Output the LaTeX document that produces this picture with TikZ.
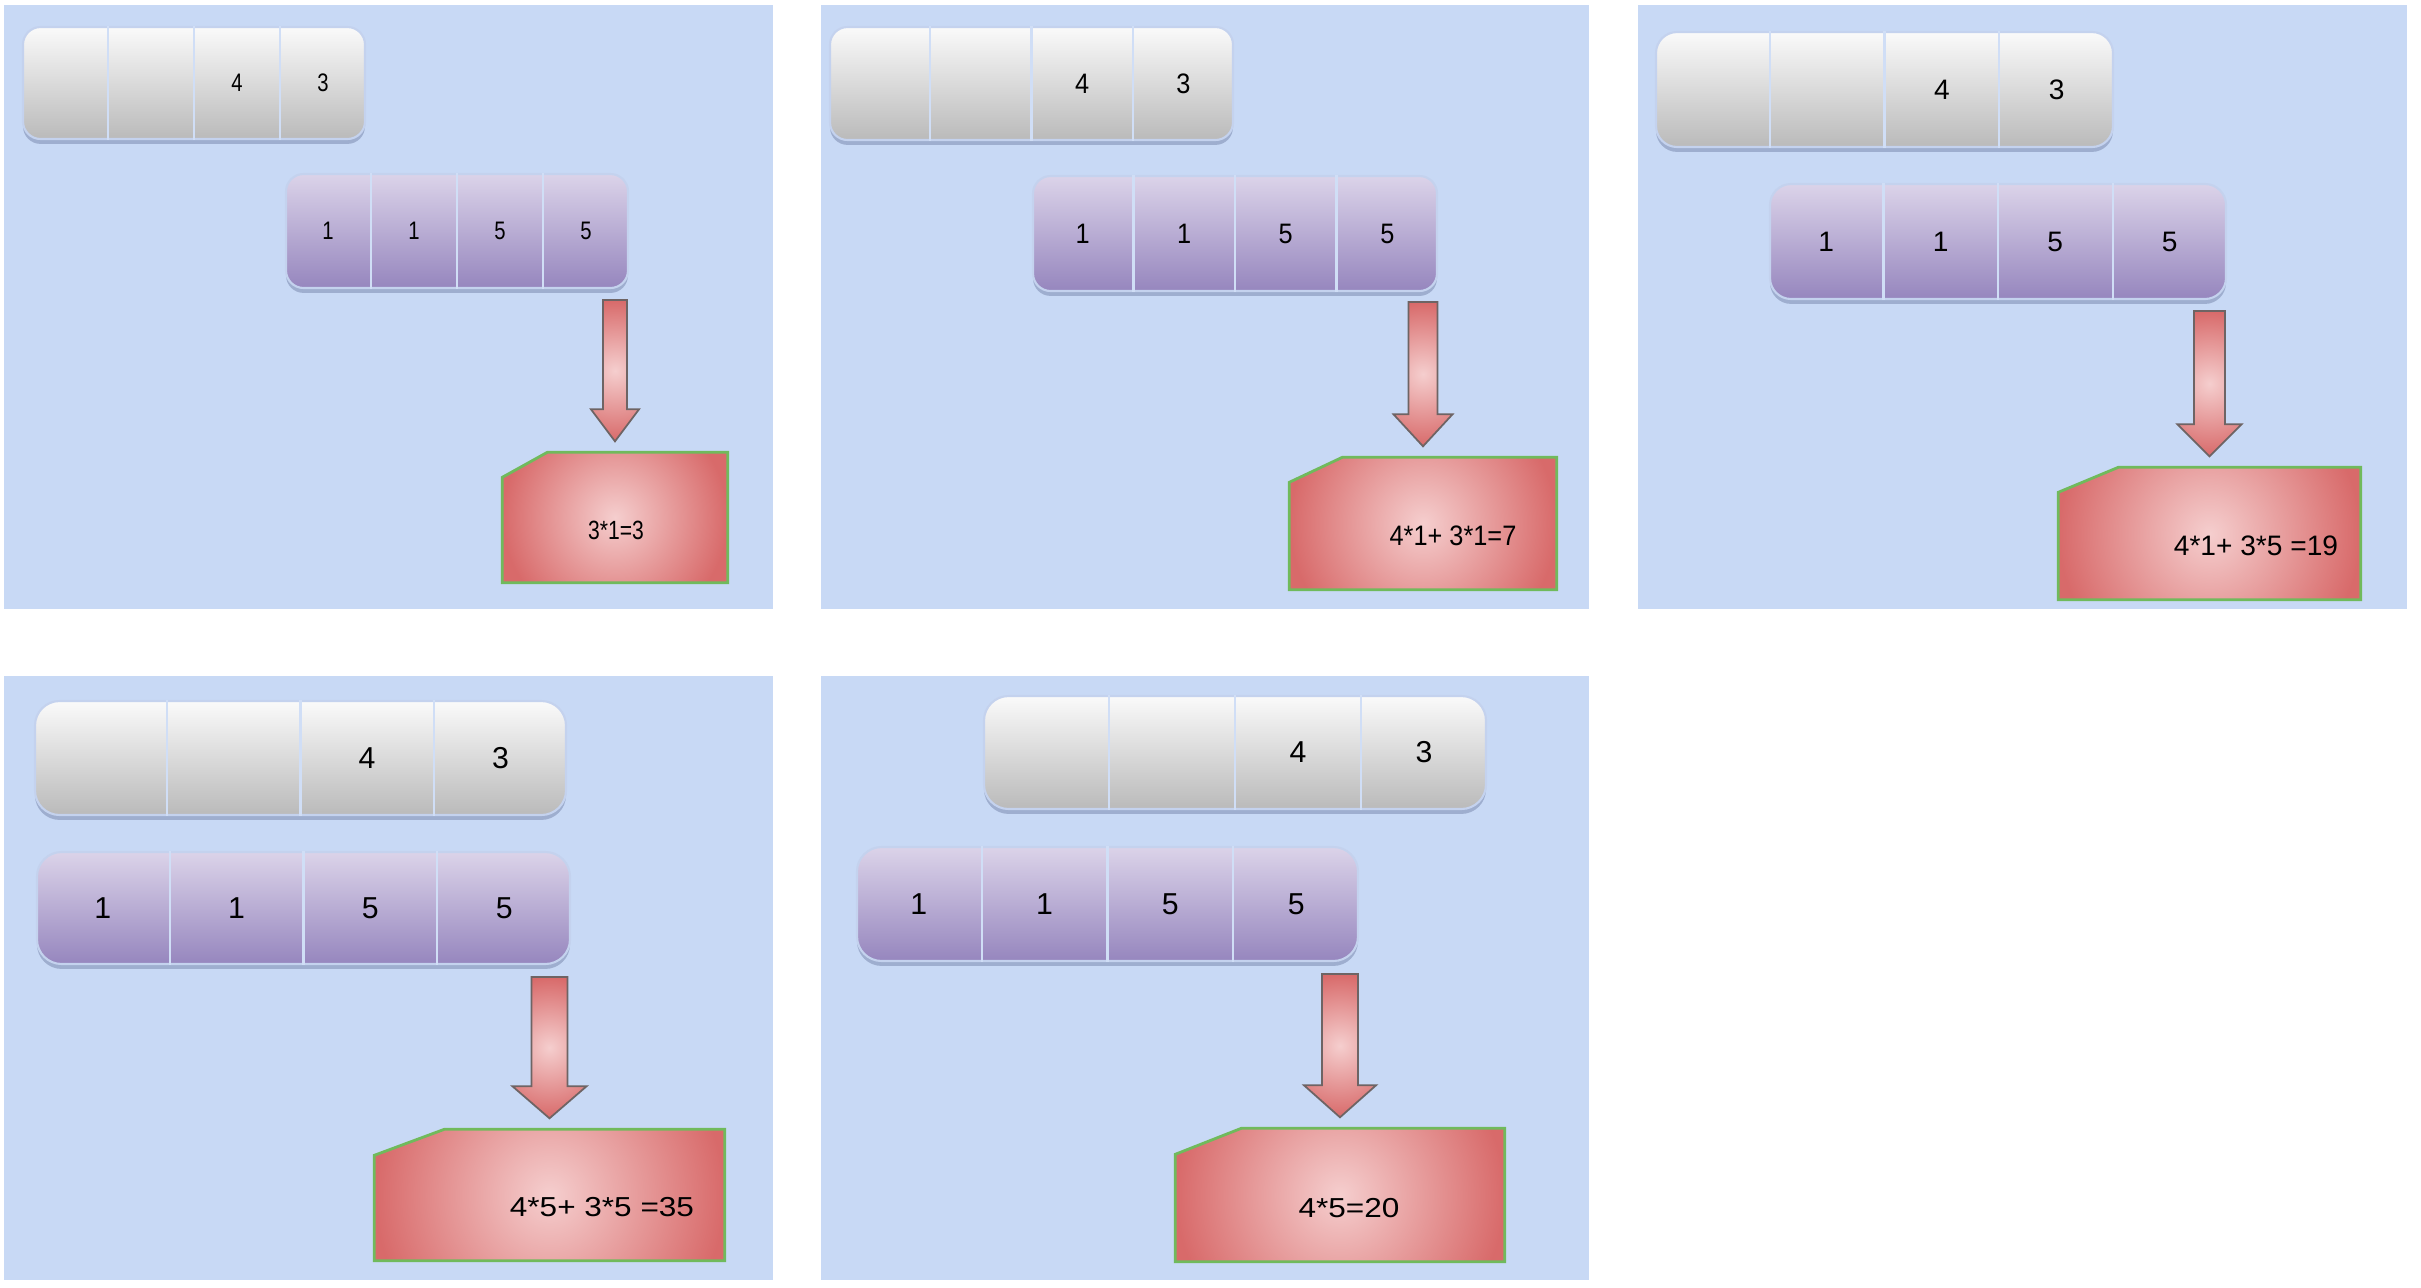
\documentclass[tikz,border=0pt]{standalone}
\usepackage{fontspec}
\setmainfont{Liberation Sans}
\newfontfamily\narrowsf[FakeStretch=0.8]{Liberation Sans}
\newfontfamily\slimsf[FakeStretch=0.9]{Liberation Sans}
\newfontfamily\widesf[FakeStretch=1.15]{Liberation Sans}
\definecolor{panelBlue}{RGB}{200,217,245}
\definecolor{grayTop}{RGB}{250,250,250}
\definecolor{grayBot}{RGB}{186,186,186}
\definecolor{lilacTop}{RGB}{219,211,233}
\definecolor{lilacBot}{RGB}{150,134,190}
\definecolor{barEdge}{RGB}{196,210,238}
\definecolor{cellLine}{RGB}{208,222,246}
\definecolor{shadowBlue}{RGB}{95,110,150}
\definecolor{glowLight}{RGB}{245,206,206}
\definecolor{glowDark}{RGB}{216,106,106}
\definecolor{arrowEdge}{RGB}{110,100,100}
\definecolor{resEdge}{RGB}{112,186,92}
\usepackage{tikz}
\usetikzlibrary{calc,fit,shadows}
\pgfdeclareverticalshading{grayfade}{100bp}{color(0bp)=(grayBot); color(25bp)=(grayBot); color(75bp)=(grayTop); color(100bp)=(grayTop)}
\pgfdeclareverticalshading{lilacfade}{100bp}{color(0bp)=(lilacBot); color(25bp)=(lilacBot); color(75bp)=(lilacTop); color(100bp)=(lilacTop)}
\pgfdeclareradialshading{redglow}{\pgfpoint{0bp}{0bp}}{color(0bp)=(glowLight); color(25bp)=(glowDark); color(50bp)=(glowDark)}

% a bar of four cells: name, style, corners, labels
\newcommand{\cellbar}[4]{%
  \node[#2, fit={#3}] (#1) {};
  \foreach \lab [count=\k] in {#4}
    \node[celltext] (#1-\k) at ($(#1.west)!{(2*\k-1)/8}!(#1.east)$) {\lab};
  \foreach \k in {1,2,3}
    \draw[divider] ($(#1.north west)!{\k/4}!(#1.north east)$)
      -- ($(#1.south west)!{\k/4}!(#1.south east)$);
}
% result box with the cut corner: name, corners, cut x, cut y
\newcommand{\resultbox}[4]{%
  \node[fit={#2}, inner sep=0pt] (#1) {};
  \path[resbox] ($(#1.north west)+(0,#4)$) -- ($(#1.north west)+(#3,0)$)
    -- (#1.north east) -- (#1.south east) -- (#1.south west) -- cycle;
}
% block arrow: start, tip, shaft half width, head half width
\newcommand{\blockarrow}[4]{%
  \path[blockarr] ($(#1)+(-#3,0)$) -- ($(#1)+(#3,0)$) -- ($(#2)+(#3,-32)$)
    -- ($(#2)+(#4,-32)$) -- (#2) -- ($(#2)+(-#4,-32)$) -- ($(#2)+(-#3,-32)$) -- cycle;
}

\begin{document}
\begin{tikzpicture}[x=0.01cm, y=-0.01cm,
    panel/.style={fill=panelBlue},
    graybar/.style={shade, shading=grayfade, draw=barEdge, line width=0.6pt,
      rounded corners=5pt, inner sep=0pt,
      drop shadow={shadow xshift=0pt, shadow yshift=-1.4pt, opacity=0.4, fill=shadowBlue}},
    lilacbar/.style={graybar, shading=lilacfade},
    celltext/.style={inner sep=0pt},
    divider/.style={draw=cellLine, line width=0.6pt},
    glowfill/.style={path picture={
      \shade[shading=redglow] let \p1=($(path picture bounding box.north east)-(path picture bounding box.south west)$),
        \n1={max(\x1,\y1)} in
        ($(path picture bounding box.center)-(0.5*\n1,0.5*\n1)$) rectangle ++(\n1,\n1);}},
    resbox/.style={glowfill, draw=resEdge, line width=0.8pt},
    blockarr/.style={glowfill, draw=arrowEdge, line width=0.5pt},
    restext/.style={inner sep=0pt}
  ]
  \useasboundingbox (0,0) rectangle (2421,1287);

  % panels
  \fill[panel] (4,5) rectangle (773,609);
  \fill[panel] (821,5) rectangle (1589,609);
  \fill[panel] (1638,5) rectangle (2407,609);
  \fill[panel] (4,676) rectangle (773,1280);
  \fill[panel] (821,676) rectangle (1589,1280);

  % step 1
  \begin{scope}[celltext/.style={inner sep=0pt, font=\narrowsf\fontsize{7.2}{9}\selectfont}]
    \cellbar{g1}{graybar}{(23,27)(365,139)}{{},{},4,3}
    \cellbar{p1}{lilacbar}{(286,174)(628,288)}{1,1,5,5}
    \resultbox{r1}{(503,453)(727,582)}{45}{25}
    \node[restext, font=\narrowsf\fontsize{7.5}{9}\selectfont] (v1) at (616,530) {3*1=3};
    \coordinate (s1) at ($(p1.south -| r1.north)+(0,11)$);
    \coordinate (e1) at ($(r1.north)+(0,-11)$);
    \blockarrow{s1}{e1}{12}{24}
  \end{scope}

  % step 2
  \begin{scope}[celltext/.style={inner sep=0pt, font=\slimsf\fontsize{8}{10}\selectfont}]
    \cellbar{g2}{graybar}{(830,27)(1233,140)}{{},{},4,3}
    \cellbar{p2}{lilacbar}{(1033,176)(1437,291)}{1,1,5,5}
    \resultbox{r2}{(1290,458)(1556,589)}{53}{25}
    \node[restext, font=\slimsf\fontsize{8}{10}\selectfont] (v2) at (1453,536) {4*1+ 3*1=7};
    \coordinate (s2) at ($(p2.south -| r2.north)+(0,10)$);
    \coordinate (e2) at ($(r2.north)+(0,-11)$);
    \blockarrow{s2}{e2}{14.5}{29.5}
  \end{scope}

  % step 3
  \begin{scope}[celltext/.style={inner sep=0pt, font=\fontsize{8}{10}\selectfont}]
    \cellbar{g3}{graybar, rounded corners=6pt}{(1656,32)(2113,147)}{{},{},4,3}
    \cellbar{p3}{lilacbar, rounded corners=6pt}{(1770,184)(2226,299)}{1,1,5,5}
    \resultbox{r3}{(2059,468)(2360,599)}{60}{25}
    \node[restext, font=\fontsize{8}{10}\selectfont] (v3) at (2256,546) {4*1+ 3*5 =19};
    \coordinate (s3) at ($(p3.south -| r3.north)+(0,11)$);
    \coordinate (e3) at ($(r3.north)+(0,-11)$);
    \blockarrow{s3}{e3}{15.5}{32}
  \end{scope}

  % step 4
  \begin{scope}[celltext/.style={inner sep=0pt, font=\fontsize{8.6}{10}\selectfont}]
    \cellbar{g4}{graybar, rounded corners=7pt}{(35,701)(566,815)}{{},{},4,3}
    \cellbar{p4}{lilacbar, rounded corners=7pt}{(37,852)(570,964)}{1,1,5,5}
    \resultbox{r4}{(375,1130)(724,1260)}{70}{26}
    \node[restext, font=\widesf\fontsize{7.8}{9}\selectfont] (v4) at (602,1207) {4*5+ 3*5 =35};
    \coordinate (s4) at ($(p4.south -| r4.north)+(0,12)$);
    \coordinate (e4) at ($(r4.north)+(0,-11)$);
    \blockarrow{s4}{e4}{18}{37}
  \end{scope}

  % step 5
  \begin{scope}[celltext/.style={inner sep=0pt, font=\fontsize{8.6}{10}\selectfont}]
    \cellbar{g5}{graybar, rounded corners=7pt}{(984,696)(1486,809)}{{},{},4,3}
    \cellbar{p5}{lilacbar, rounded corners=7pt}{(857,847)(1358,961)}{1,1,5,5}
    \resultbox{r5}{(1176,1129)(1504,1261)}{66}{26}
    \node[restext, font=\widesf\fontsize{7.8}{9}\selectfont] (v5) at (1349,1208) {4*5=20};
    \coordinate (s5) at ($(p5.south -| r5.north)+(0,12)$);
    \coordinate (e5) at ($(r5.north)+(0,-11)$);
    \blockarrow{s5}{e5}{18}{36}
  \end{scope}
\end{tikzpicture}
\end{document}
